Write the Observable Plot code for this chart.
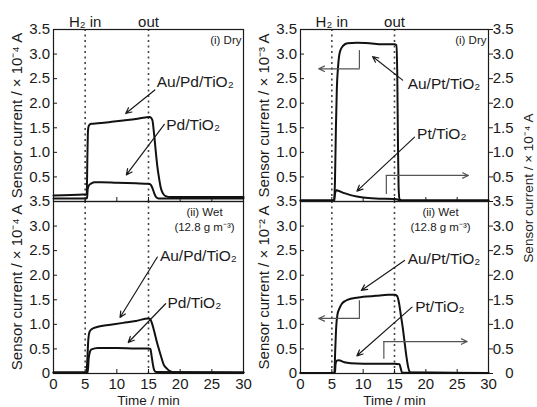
<!DOCTYPE html>
<html><head><meta charset="utf-8">
<script src="https://cdn.jsdelivr.net/npm/d3@7"></script>
<script src="https://cdn.jsdelivr.net/npm/@observablehq/plot@0.6"></script>
<style>
html,body{margin:0;padding:0;background:#fff;}
#chart{position:relative;width:537px;height:407px;overflow:hidden;font-family:"Liberation Sans",Arial,sans-serif;color:#222;background:#fff;}
#chart svg{position:absolute;overflow:visible;}
#rtitle{position:absolute;left:528px;top:188px;transform:translate(-50%,-50%) rotate(-90deg);white-space:nowrap;font-size:13.5px;color:#222;}
</style></head><body><div id="chart"></div>
<script>
// ---- axes ----
const xTicks = [0, 5, 10, 15, 20, 25, 30];
const yTicksTop = [0.5, 1, 1.5, 2, 2.5, 3, 3.5];
const yTicksBottom = [0, 0.5, 1, 1.5, 2, 2.5, 3, 3.5];
const gasTimes = [5, 15];
const gasLabels = ["H₂ in", "out"];

// ---- series (time / min, current) ----
const auPdDryT = [0, 4.8, 5.25, 5.35, 5.45, 5.6, 6, 7, 9, 11, 13, 14.5, 15.2, 15.6, 15.9, 16.2, 16.4, 16.7, 16.9, 17.3, 17.7, 18.5, 20, 25, 30];
const auPdDryV = [0.12, 0.14, 0.15, 0.9, 1.45, 1.55, 1.58, 1.59, 1.62, 1.65, 1.68, 1.71, 1.72, 1.66, 1.35, 0.95, 0.71, 0.45, 0.3, 0.16, 0.11, 0.09, 0.09, 0.09, 0.09];
const pdDryT = [0, 5, 5.3, 5.4, 5.6, 6, 6.5, 7.5, 10, 13, 15, 15.3, 15.6, 15.9, 16.2, 16.6, 30];
const pdDryV = [0.06, 0.06, 0.07, 0.25, 0.33, 0.37, 0.39, 0.39, 0.38, 0.37, 0.36, 0.35, 0.28, 0.17, 0.09, 0.06, 0.06];
const auPdWetT = [0, 5.2, 5.35, 5.5, 5.7, 6, 7, 9, 11, 13, 15, 15.3, 15.6, 15.9, 16.3, 16.7, 17.0, 17.4, 17.9, 18.5, 19.2, 30];
const auPdWetV = [0.02, 0.02, 0.3, 0.7, 0.85, 0.9, 0.95, 0.99, 1.03, 1.07, 1.12, 1.1, 1.0, 0.86, 0.65, 0.47, 0.34, 0.18, 0.1, 0.04, 0.02, 0.02];
const pdWetT = [0, 5.4, 5.55, 5.75, 6, 7, 10, 13, 15, 15.3, 15.5, 15.7, 15.9, 16.2, 30];
const pdWetV = [0.02, 0.02, 0.3, 0.44, 0.49, 0.52, 0.52, 0.51, 0.51, 0.5, 0.35, 0.18, 0.07, 0.03, 0.02];
const auPtDryT = [0, 5.35, 5.5, 5.65, 5.8, 6.0, 6.3, 6.8, 7.5, 9, 11, 13, 15, 15.3, 15.45, 15.55, 15.65, 15.8, 16.2, 30];
const auPtDryV = [0.02, 0.02, 0.4, 1.5, 2.3, 2.75, 3.05, 3.17, 3.22, 3.23, 3.22, 3.2, 3.2, 3.18, 2.5, 1.2, 0.3, 0.05, 0.02, 0.02];
const ptDryT = [0, 5.4, 5.5, 5.7, 6, 7, 8, 9, 10, 12, 15, 15.5, 15.8, 30];
const ptDryV = [0.02, 0.02, 0.15, 0.23, 0.22, 0.17, 0.13, 0.1, 0.08, 0.06, 0.05, 0.04, 0.02, 0.02];
const auPtWetT = [0, 5.4, 5.55, 5.7, 5.9, 6.2, 6.6, 7.2, 8, 10, 12, 14, 15, 15.4, 15.7, 16, 16.3, 16.6, 16.9, 17.2, 17.5, 30];
const auPtWetV = [0.01, 0.01, 0.5, 0.95, 1.2, 1.32, 1.42, 1.48, 1.52, 1.56, 1.58, 1.6, 1.6, 1.58, 1.45, 1.2, 0.95, 0.65, 0.35, 0.12, 0.02, 0.01];
const ptWetT = [0, 5.5, 5.6, 5.8, 6.1, 7, 8, 10, 12, 15, 15.8, 16.0, 16.2, 30];
const ptWetV = [0.01, 0.01, 0.2, 0.26, 0.27, 0.23, 0.21, 0.2, 0.2, 0.2, 0.19, 0.1, 0.02, 0.01];

// ---- annotations (data units) ----
const pdLabels = ["Au/Pd/TiO₂", "Pd/TiO₂"];
const ptLabels = ["Au/Pt/TiO₂", "Pt/TiO₂"];
const tlLabelX = [16.3, 17.8], tlLabelY = [2.43, 1.55];
const tlArrX1 = [16.0, 17.5], tlArrY1 = [2.27, 1.57], tlArrX2 = [11.4, 11.5], tlArrY2 = [1.79, 0.54];
const blLabelX = [16.8, 18.0], blLabelY = [2.4, 1.44];
const blArrX1 = [16.4, 17.7], blArrY1 = [2.37, 1.42], blArrX2 = [10.5, 11.8], blArrY2 = [1.14, 0.63];
const trLabelX = [17.1, 18.6], trLabelY = [2.39, 1.37];
const trArrX1 = [16.3, 18.2], trArrY1 = [2.47, 1.31], trArrX2 = [11.5, 9.0], trArrY2 = [2.95, 0.21];
const brLabelX = [17.1, 18.3], brLabelY = [2.33, 1.35];
const brArrX1 = [16.6, 17.8], brArrY1 = [2.3, 1.35], brArrX2 = [9.7, 9.0], brArrY2 = [1.69, 0.36];
// axis-indicator L-arrows: [left-pointing, right-pointing]
const trIndX = [9.4, 13.7], trIndYa = [3.07, 0.14], trIndYb = [2.7, 0.53], trIndXEnd = [2.9, 26.8];
const brIndX = [9.4, 13.3], brIndYa = [1.48, 0.29], brIndYb = [1.12, 0.65], brIndXEnd = [2.9, 26.6];

const conditionDry = "(i) Dry";
const conditionWet = "(ii) Wet\n(12.8 g m⁻³)";

const zipRows = (T, V) => T.map((t, i) => ({t, v: V[i]}));
const idx = a => a.map((_, i) => i);

function panel(o) {
  const ink = "#1a1a1a";
  const marks = [
    Plot.ruleX(gasTimes, {stroke: "#444", strokeWidth: 1.6, strokeDasharray: "2 3.5"}),
    Plot.frame({stroke: ink, strokeWidth: 1.2}),
    Plot.axisY(o.yTicks, {anchor: "left", tickSize: -4, tickPadding: 7.5, tickFormat: o.yFmt, label: o.yLabel, labelAnchor: "center", labelOffset: 42, labelArrow: "none", stroke: ink, fill: ink}),
    o.bottom
      ? Plot.axisX(xTicks, {anchor: "bottom", tickSize: -4, tickPadding: 9, label: null, stroke: ink, fill: ink})
      : Plot.axisX(xTicks, {anchor: "bottom", tickSize: -4, tickFormat: () => "", label: null, stroke: ink}),
    Plot.line(o.s1, {x: "t", y: "v", stroke: "#111", strokeWidth: 2, curve: "monotone-x"}),
    Plot.line(o.s2, {x: "t", y: "v", stroke: "#111", strokeWidth: 2, curve: "monotone-x"}),
    Plot.text(o.labels, {x: (d, i) => o.lx[i], y: (d, i) => o.ly[i], text: d => d, textAnchor: "start", fontSize: 15.5, fill: ink}),
    Plot.arrow(idx(o.labels), {x1: i => o.ax1[i], y1: i => o.ay1[i], x2: i => o.ax2[i], y2: i => o.ay2[i], stroke: ink, strokeWidth: 1.2, headLength: 8, headAngle: 50})
  ];
  if (o.bottom) {
    marks.push(Plot.text(["Time / min"], {frameAnchor: "bottom", text: d => d, lineAnchor: "bottom", dy: 31, fontSize: 13.5, fill: ink}));
  } else {
    marks.push(Plot.text(gasLabels, {x: (d, i) => gasTimes[i], frameAnchor: "top", text: d => d, lineAnchor: "bottom", dy: -3, fontSize: 15, fill: ink}));
  }
  marks.push(Plot.text([o.cond], {frameAnchor: "top-right", text: d => d, textAnchor: o.bottom ? "middle" : "end", lineAnchor: "top", dx: o.condDx, dy: 4, fontSize: 11.5, lineHeight: 1.3, fill: ink}));
  if (o.right) {
    marks.push(Plot.axisY(o.yTicks, {anchor: "right", tickSize: 4, tickPadding: 21, textAnchor: "end", tickFormat: o.yFmt, label: null, stroke: ink, fill: ink}));
  }
  if (o.ind) {
    marks.push(Plot.ruleX(idx(o.ind.x), {x: i => o.ind.x[i], y1: i => o.ind.ya[i], y2: i => o.ind.yb[i], stroke: "#555", strokeWidth: 1.2}));
    marks.push(Plot.arrow(idx(o.ind.x), {x1: i => o.ind.x[i], y1: i => o.ind.yb[i], x2: i => o.ind.xe[i], y2: i => o.ind.yb[i], stroke: "#555", strokeWidth: 1.2, headLength: 8, headAngle: 50}));
  }
  const svg = Plot.plot({
    width: o.width, height: o.height,
    marginLeft: o.mL, marginRight: o.mR, marginTop: o.mT, marginBottom: o.mB,
    x: {domain: [0, 30]},
    y: {domain: [0, 3.5]},
    style: {fontFamily: '"Liberation Sans", Arial, sans-serif', fontSize: "15px", color: ink, background: "none", overflow: "visible"},
    marks
  });
  svg.style.left = o.left + "px";
  svg.style.top = o.top + "px";
  document.getElementById("chart").appendChild(svg);
}

const fmtTop = d => d.toFixed(1);
const fmtBottom = d => d === 0 ? "0" : d.toFixed(1);

panel({left: 0, top: 0, width: 270, height: 204, mL: 53, mR: 27, mT: 29, mB: 3,
  yTicks: yTicksTop, yFmt: fmtTop, yLabel: "Sensor current / × 10⁻⁴ A",
  s1: zipRows(auPdDryT, auPdDryV), s2: zipRows(pdDryT, pdDryV),
  labels: pdLabels, lx: tlLabelX, ly: tlLabelY, ax1: tlArrX1, ay1: tlArrY1, ax2: tlArrX2, ay2: tlArrY2,
  cond: conditionDry, condDx: -2, bottom: false});
panel({left: 0, top: 190, width: 270, height: 217, mL: 53, mR: 27, mT: 11, mB: 34,
  yTicks: yTicksBottom, yFmt: fmtBottom, yLabel: "Sensor current / × 10⁻⁴ A",
  s1: zipRows(auPdWetT, auPdWetV), s2: zipRows(pdWetT, pdWetV),
  labels: pdLabels, lx: blLabelX, ly: blLabelY, ax1: blArrX1, ay1: blArrY1, ax2: blArrX2, ay2: blArrY2,
  cond: conditionWet, condDx: -39, bottom: true});
panel({left: 250, top: 0, width: 287, height: 204, mL: 50, mR: 49, mT: 29, mB: 3,
  yTicks: yTicksTop, yFmt: fmtTop, yLabel: "Sensor current / × 10⁻³ A",
  s1: zipRows(auPtDryT, auPtDryV), s2: zipRows(ptDryT, ptDryV),
  labels: ptLabels, lx: trLabelX, ly: trLabelY, ax1: trArrX1, ay1: trArrY1, ax2: trArrX2, ay2: trArrY2,
  cond: conditionDry, condDx: -2, bottom: false, right: true,
  ind: {x: trIndX, ya: trIndYa, yb: trIndYb, xe: trIndXEnd}});
panel({left: 250, top: 190, width: 287, height: 217, mL: 50, mR: 49, mT: 11, mB: 34,
  yTicks: yTicksBottom, yFmt: fmtBottom, yLabel: "Sensor current / × 10⁻² A",
  s1: zipRows(auPtWetT, auPtWetV), s2: zipRows(ptWetT, ptWetV),
  labels: ptLabels, lx: brLabelX, ly: brLabelY, ax1: brArrX1, ay1: brArrY1, ax2: brArrX2, ay2: brArrY2,
  cond: conditionWet, condDx: -48, bottom: true, right: true,
  ind: {x: brIndX, ya: brIndYa, yb: brIndYb, xe: brIndXEnd}});

const rt = document.createElement("div");
rt.id = "rtitle";
rt.textContent = "Sensor current / × 10⁻⁴ A";
document.getElementById("chart").appendChild(rt);
</script>
</body></html>
